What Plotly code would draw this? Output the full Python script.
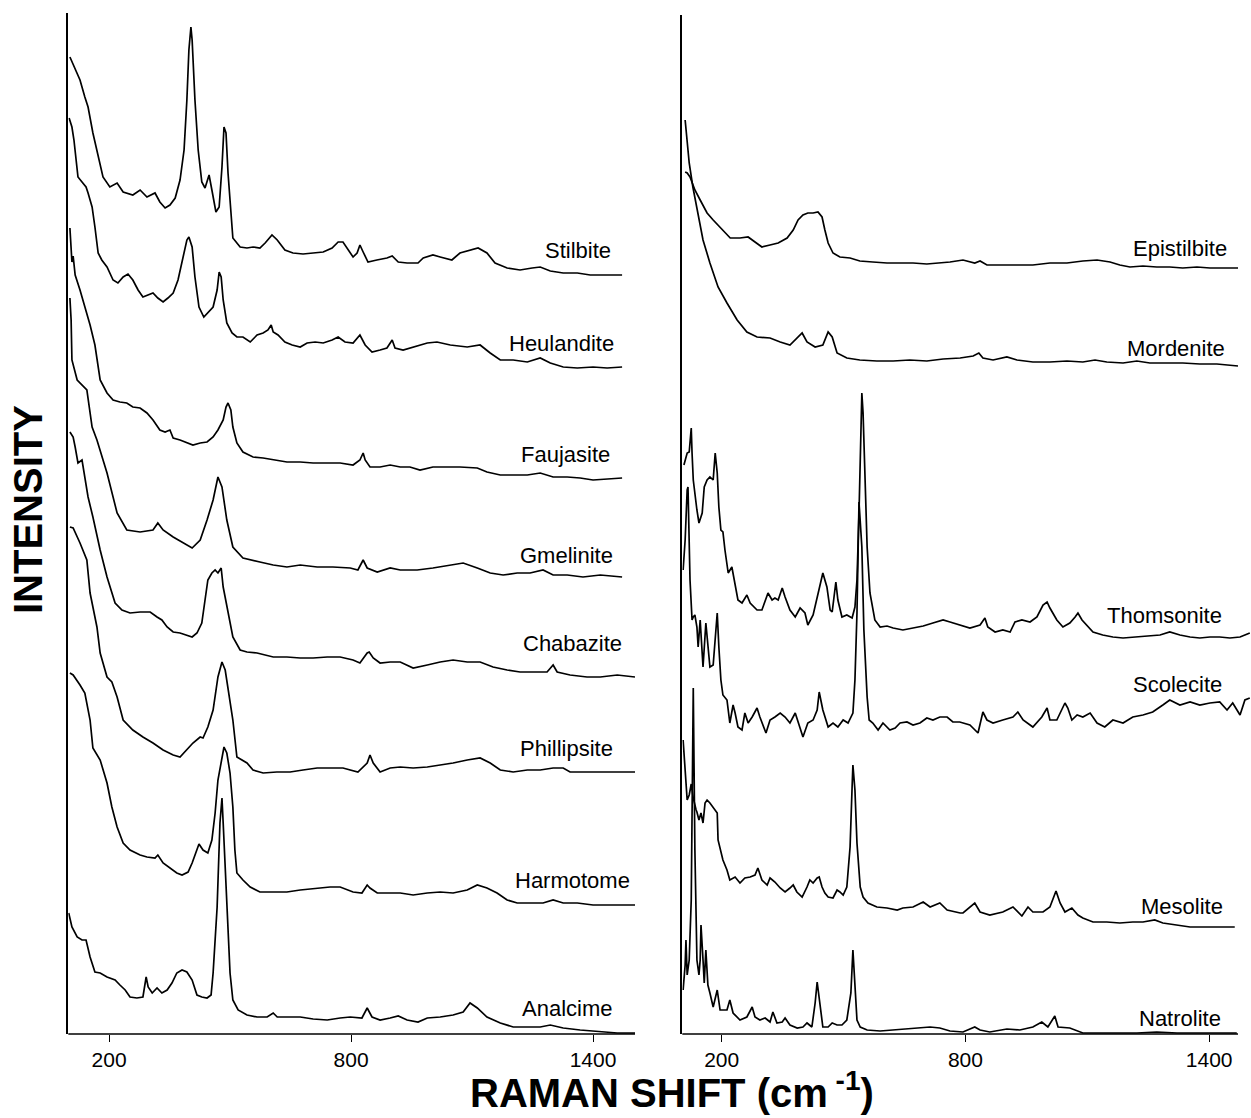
import plotly.graph_objects as go

# ---------------- data (Raman shift cm-1, offset intensity, arbitrary units) ----------------
TICKS = [200, 800, 1400]

stilbite_x = [103,116,128,140,148,160,173,185,202,220,235,259,277,294,314,326,339,351,364,376,386,393,398,403,406,413,421,430,438,448,455,465,473,480,485,490,495,502,507,525,542,557,574,587,604,617,636,656,681,706,731,753,768,780,793,805,815,822,830,842,864,889,902,917,939,966,979,1003,1021,1050,1070,1095,1115,1137,1157,1187,1219,1249,1269,1294,1326,1361,1393,1425,1472]
stilbite_y = [977,964,954,937,927,901,877,857,847,851,842,839,844,837,841,832,826,829,836,854,884,934,984,1007,994,934,884,852,846,859,844,822,827,867,907,901,861,817,796,787,786,787,786,791,799,794,784,781,780,781,782,786,792,792,784,777,781,789,782,772,774,776,778,772,771,771,776,779,777,774,781,784,786,781,771,766,764,766,767,763,761,761,759,759,759]

heulandite_x = [101,108,113,123,133,143,148,158,165,173,182,195,210,222,235,247,259,272,284,297,309,321,334,346,359,371,383,393,398,406,413,423,435,445,458,468,473,478,483,492,505,517,532,550,567,582,594,602,607,619,636,654,674,691,711,731,753,768,785,805,822,835,852,872,889,902,909,929,954,989,1013,1046,1088,1120,1145,1170,1202,1237,1269,1294,1326,1361,1400,1435,1472]
heulandite_y = [916,907,894,857,852,847,841,827,807,781,774,767,754,751,757,760,754,744,737,739,741,736,732,736,741,754,777,794,797,787,757,727,717,721,727,744,762,757,734,711,701,697,697,692,699,701,704,709,702,699,692,689,687,691,692,691,694,697,692,691,699,689,682,684,686,694,686,684,687,691,692,689,687,689,681,674,674,672,676,671,667,666,667,666,667]

faujasite_x = [103,108,111,116,128,140,153,165,178,195,210,227,244,259,277,294,309,326,339,351,359,376,393,408,426,443,458,470,483,490,495,502,507,517,532,557,582,607,641,674,706,741,773,805,822,830,835,847,872,897,922,946,971,1003,1038,1070,1113,1137,1170,1202,1237,1269,1301,1336,1368,1400,1435,1472]
faujasite_y = [806,772,778,759,744,727,709,689,654,641,634,632,631,627,626,621,614,604,602,604,596,594,591,589,591,592,597,604,614,627,631,624,607,591,582,577,576,574,572,572,571,571,571,569,574,581,574,567,567,569,567,567,564,567,567,567,566,562,559,559,559,561,557,557,556,554,555,556]

gmelinite_x = [103,106,108,121,145,158,170,195,220,244,277,309,321,334,359,381,406,426,443,458,470,480,492,507,532,574,607,641,674,716,755,798,817,830,840,865,897,922,964,1003,1046,1078,1113,1145,1177,1212,1244,1276,1301,1336,1375,1418,1472]
gmelinite_y = [736,714,674,654,644,607,594,561,521,504,502,504,511,504,497,492,486,494,514,534,557,547,514,487,476,472,469,467,469,467,467,466,464,474,466,462,466,464,464,466,469,471,466,461,459,461,461,464,459,459,457,459,457]

chabazite_x = [103,111,116,123,133,140,148,160,178,195,215,232,252,277,302,319,331,344,359,376,393,406,418,430,438,445,455,463,470,478,483,495,507,525,542,567,607,641,674,706,741,773,805,822,840,845,855,872,897,922,954,989,1021,1053,1088,1120,1152,1187,1219,1251,1286,1301,1311,1343,1385,1418,1460,1504]
chabazite_y = [602,597,587,571,574,557,537,517,484,457,431,424,421,422,422,417,414,407,402,401,399,397,401,411,434,454,461,464,461,466,447,421,397,384,382,381,377,377,376,376,377,377,374,371,381,382,376,371,372,372,366,369,372,374,372,372,367,364,362,362,362,369,362,359,357,357,359,357]

phillipsite_x = [103,111,128,145,153,170,178,195,207,220,235,259,284,309,334,359,376,393,408,426,433,445,458,470,480,488,495,507,517,542,557,582,616,649,681,716,748,780,817,840,847,855,872,897,922,954,989,1021,1053,1088,1120,1145,1170,1202,1237,1269,1301,1326,1343,1375,1418,1460,1504]
phillipsite_y = [507,506,491,474,441,407,381,357,352,337,314,304,297,291,284,279,277,284,291,297,296,307,324,357,372,364,344,314,277,271,264,261,262,262,264,266,266,266,262,271,279,271,262,266,267,266,267,269,271,274,276,271,264,262,264,264,266,266,262,262,262,262,262]

harmotome_x = [103,111,128,140,153,160,178,195,207,220,235,252,277,294,314,321,334,351,368,381,396,406,418,423,433,445,455,463,470,480,485,492,500,507,512,517,532,550,574,607,641,674,716,748,773,805,827,840,847,865,889,922,954,989,1021,1053,1088,1113,1137,1162,1187,1212,1244,1276,1301,1326,1361,1400,1450,1504]
harmotome_y = [361,359,349,341,314,286,274,251,227,207,191,184,179,177,176,179,171,166,161,159,162,171,184,190,184,181,194,221,254,277,287,281,261,227,184,161,154,147,142,142,142,144,146,147,147,142,141,149,146,141,141,141,139,141,142,141,144,149,146,141,134,131,131,131,134,131,131,129,129,129]

analcime_x = [100,108,121,133,143,153,165,178,195,215,227,240,252,269,284,292,297,307,319,331,344,356,368,381,393,406,418,430,443,453,458,468,475,480,483,492,500,507,520,542,567,592,607,617,649,674,706,741,773,798,827,840,852,872,897,917,939,966,989,1021,1053,1078,1095,1113,1137,1170,1202,1237,1269,1294,1326,1368,1418,1460,1504]
analcime_y = [121,107,97,94,94,77,62,61,57,54,49,44,37,36,37,57,47,41,46,41,44,51,61,64,62,54,39,37,36,39,61,127,211,236,211,127,61,34,24,19,17,17,21,17,17,17,15,14,16,17,16,26,17,14,16,18,14,12,16,17,19,22,31,26,17,11,7,7,7,9,6,4,2,1,1]

epistilbite_x = [110,115,122,134,147,164,179,201,221,245,265,282,299,319,339,361,376,388,400,412,425,437,447,454,462,474,491,516,540,572,607,639,671,705,737,762,794,823,836,853,885,927,966,1008,1050,1089,1124,1156,1180,1205,1237,1271,1303,1335,1370,1402,1434,1471]
epistilbite_y = [862,861,857,844,834,821,814,804,796,796,797,792,787,789,791,796,804,814,819,821,821,822,817,804,791,781,777,776,773,772,771,771,771,770,771,772,774,771,773,769,769,769,769,771,771,773,774,772,769,767,768,767,767,766,767,766,766,766]

mordenite_x = [110,115,120,129,142,154,171,191,213,238,262,287,319,344,368,385,398,410,430,449,462,472,484,508,540,582,622,663,705,745,787,819,833,843,868,902,927,966,1008,1050,1089,1119,1148,1188,1222,1254,1296,1335,1377,1419,1471]
mordenite_y = [914,894,871,847,821,794,771,747,731,714,702,697,696,692,689,696,701,692,687,689,702,697,681,676,674,673,673,674,673,675,676,678,681,676,674,677,674,672,672,673,672,674,672,671,673,671,671,671,670,670,668]

thomsonite_x = [107,110,115,120,125,127,130,139,144,152,157,164,171,179,184,189,193,198,203,208,216,225,233,240,250,262,270,287,299,314,324,331,339,349,356,368,381,393,405,412,425,437,449,459,467,472,481,486,496,508,521,528,533,538,543,545,548,553,558,565,577,590,607,622,646,671,696,720,745,762,787,811,836,848,855,873,892,910,922,939,959,976,991,1001,1008,1025,1040,1057,1070,1077,1087,1099,1114,1138,1163,1188,1222,1254,1279,1303,1328,1353,1377,1402,1426,1451,1476,1500]
thomsonite_y = [569,574,581,582,606,581,554,524,511,521,547,554,557,554,581,561,527,504,502,484,461,467,451,434,431,439,431,424,424,441,434,436,434,446,437,424,417,426,421,409,419,441,461,447,424,422,452,434,417,419,416,427,454,521,604,641,621,554,487,441,414,407,408,406,404,406,408,411,414,412,409,406,409,416,407,402,404,402,412,414,412,417,429,432,426,414,407,411,417,421,414,409,402,399,397,396,397,398,399,402,399,397,396,397,397,396,397,401]

scolecite_x = [105,110,115,117,122,127,130,134,139,142,147,154,161,166,171,179,189,193,198,203,213,220,228,233,240,250,257,265,275,287,294,309,319,331,344,356,368,381,393,400,412,425,435,440,449,462,474,486,499,511,523,528,533,538,545,550,558,563,572,585,597,614,627,639,656,671,688,705,720,737,755,769,786,811,831,843,853,868,892,917,929,942,966,988,1001,1008,1025,1045,1052,1062,1075,1089,1107,1124,1143,1163,1188,1212,1237,1261,1286,1303,1328,1353,1377,1402,1426,1444,1458,1476,1488,1500]
scolecite_y = [464,494,544,547,454,414,417,419,407,387,414,367,411,387,367,369,421,387,354,339,334,311,329,321,307,304,321,311,317,326,317,301,314,317,321,317,311,321,307,297,311,314,324,342,324,307,311,307,314,311,321,354,421,532,487,404,337,314,311,304,311,304,306,311,312,309,311,316,314,317,317,312,312,309,301,322,314,311,314,317,322,314,307,317,326,314,314,331,326,314,319,317,321,311,307,314,311,317,319,322,329,334,329,332,329,331,332,324,331,319,334,336]

mesolite_x = [105,110,115,120,125,130,134,137,139,144,149,154,159,164,171,179,189,191,198,203,213,220,233,245,257,270,282,289,299,312,319,331,344,356,368,376,385,398,410,417,425,435,440,447,454,462,474,484,491,499,508,516,521,523,528,533,541,548,560,582,607,632,646,671,696,713,737,755,787,794,823,836,860,892,917,939,954,966,991,1008,1023,1033,1045,1062,1077,1089,1114,1148,1180,1212,1237,1266,1286,1321,1353,1385,1419,1463]
mesolite_y = [294,264,234,239,250,236,228,224,222,214,221,211,231,234,231,226,221,194,181,174,164,154,157,151,156,157,159,166,154,149,156,152,146,142,146,149,142,137,147,154,151,156,157,147,141,137,136,144,142,139,147,187,247,269,244,191,147,137,131,127,126,124,126,127,132,127,131,124,121,121,131,122,119,122,127,118,127,122,122,127,143,131,122,126,119,116,112,112,111,112,112,114,111,109,107,107,107,107]

natrolite_x = [105,110,112,115,120,125,130,134,139,144,147,149,154,157,161,166,171,179,189,196,213,220,228,245,262,275,282,294,307,319,326,336,349,356,368,386,400,410,422,430,435,442,449,462,472,484,496,508,518,523,528,533,541,558,590,622,656,688,713,737,762,794,823,836,860,902,934,966,988,1003,1020,1028,1057,1089,1131,1173,1222,1271,1321,1377,1468]
natrolite_y = [44,69,94,59,74,134,346,184,74,59,74,109,74,51,84,49,41,27,44,24,24,34,21,14,17,27,17,14,16,12,22,11,12,16,9,6,7,11,7,31,52,27,7,7,11,9,9,14,41,84,47,14,7,4,3,4,5,6,7,6,3,2,7,4,2,5,4,7,12,7,18,7,6,1,1,1,1,2,1,1,1]

left_names = ["Stilbite", "Heulandite", "Faujasite", "Gmelinite", "Chabazite", "Phillipsite", "Harmotome", "Analcime"]
left_label_x = [1363, 1321, 1331, 1333, 1348, 1333, 1348, 1336]
left_label_y = [784, 691, 580, 479, 391, 286, 154, 26]

right_names = ["Epistilbite", "Mordenite", "Thomsonite", "Scolecite", "Mesolite", "Natrolite"]
right_label_x = [1328, 1318, 1291, 1323, 1333, 1328]
right_label_y = [786, 686, 419, 350, 128, 16]

left_series = [(stilbite_x, stilbite_y), (heulandite_x, heulandite_y), (faujasite_x, faujasite_y),
               (gmelinite_x, gmelinite_y), (chabazite_x, chabazite_y), (phillipsite_x, phillipsite_y),
               (harmotome_x, harmotome_y), (analcime_x, analcime_y)]
right_series = [(epistilbite_x, epistilbite_y), (mordenite_x, mordenite_y), (thomsonite_x, thomsonite_y),
                (scolecite_x, scolecite_y), (mesolite_x, mesolite_y), (natrolite_x, natrolite_y)]

# ---------------- figure ----------------
W, H = 1251, 1118
FONT = "Liberation Sans, Arial, Helvetica, sans-serif"
LINE = dict(color="black", width=1.7)

fig = go.Figure()
for (xs, ys), name in zip(left_series, left_names):
    assert len(xs) == len(ys), name
    fig.add_trace(go.Scatter(x=xs, y=ys, mode="lines", line=LINE, name=name,
                             xaxis="x", yaxis="y", showlegend=False, hoverinfo="skip"))
for (xs, ys), name in zip(right_series, right_names):
    assert len(xs) == len(ys), name
    fig.add_trace(go.Scatter(x=xs, y=ys, mode="lines", line=LINE, name=name,
                             xaxis="x2", yaxis="y2", showlegend=False, hoverinfo="skip"))

annotations = []
for n, lx, ly in zip(left_names, left_label_x, left_label_y):
    annotations.append(dict(text=n, x=lx, y=ly, xref="x", yref="y", showarrow=False,
                            xanchor="center", yanchor="middle",
                            font=dict(family=FONT, size=22, color="black")))
for n, lx, ly in zip(right_names, right_label_x, right_label_y):
    annotations.append(dict(text=n, x=lx, y=ly, xref="x2", yref="y2", showarrow=False,
                            xanchor="center", yanchor="middle",
                            font=dict(family=FONT, size=22, color="black")))
annotations.append(dict(text="<b>INTENSITY</b>", x=28 / W, y=1 - 510 / H, xref="paper", yref="paper",
                        xanchor="center", yanchor="middle",
                        textangle=-90, showarrow=False, font=dict(family=FONT, size=40, color="black")))
annotations.append(dict(text="<b>RAMAN SHIFT (cm<sup> -1</sup>)</b>", x=672 / W, y=1 - 1090 / H,
                        xref="paper", yref="paper", showarrow=False,
                        xanchor="center", yanchor="middle",
                        font=dict(family=FONT, size=40, color="black")))

xcommon = dict(tickvals=TICKS, ticks="outside", ticklen=7, tickwidth=1.2, tickcolor="black",
               showgrid=False, zeroline=False,
               tickfont=dict(family=FONT, size=21, color="black"))
ycommon = dict(showticklabels=False, ticks="", showline=True, linecolor="black", linewidth=1.6,
               showgrid=False, zeroline=False)

# bottom axis lines (the right one stops short of the page edge, as in the original)
shapes = [
    dict(type="line", xref="x domain", yref="y domain", x0=0, x1=1, y0=0, y1=0,
         line=dict(color="black", width=1.6)),
    dict(type="line", xref="x2 domain", yref="y2 domain", x0=0, x1=(1238 - 682.3) / (W - 682.3), y0=0, y1=0,
         line=dict(color="black", width=1.6)),
]

fig.update_layout(
    width=W, height=H,
    margin=dict(l=0, r=0, t=0, b=0),
    paper_bgcolor="white", plot_bgcolor="white",
    xaxis=dict(domain=[68.3 / W, 635 / W], range=[99, 1504], anchor="y", **xcommon),
    yaxis=dict(domain=[1 - 1034 / H, 1 - 13 / H], range=[0, 1021], anchor="x", **ycommon),
    xaxis2=dict(domain=[682.3 / W, 1.0], range=[103, 1503], anchor="y2", **xcommon),
    yaxis2=dict(domain=[1 - 1034 / H, 1 - 15 / H], range=[0, 1019], anchor="x2", **ycommon),
    annotations=annotations,
    shapes=shapes,
    showlegend=False,
)

fig.write_html("out.html", config={"displayModeBar": False},
               post_script="document.body.style.margin='0';document.body.style.padding='0';document.body.style.overflow='hidden';")
